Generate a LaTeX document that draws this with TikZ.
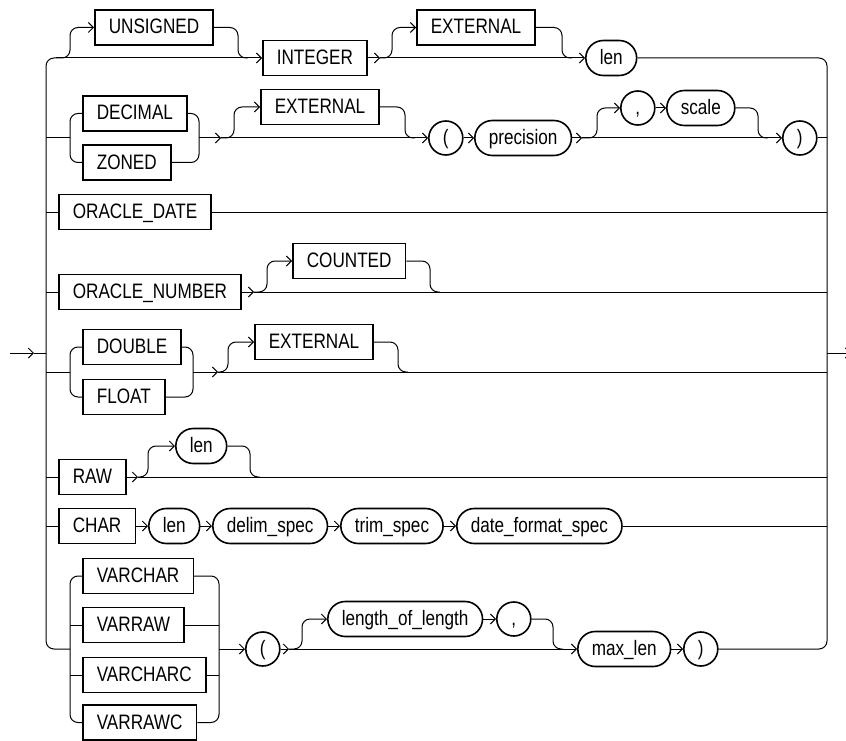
\documentclass[tikz,border=0pt]{standalone}
\usepackage{fontspec}
\setmainfont{Liberation Sans}[FakeStretch=0.82]
\usetikzlibrary{arrows.meta}

\begin{document}
\begin{tikzpicture}[x=1pt,y=-1pt,
  kw/.style={draw,line width=1.6pt,minimum height=35pt,inner xsep=14pt,
    inner ysep=0pt,text height=14pt,text depth=1pt,anchor=west,
    font=\fontsize{20.9}{24}\selectfont},
  nt/.style={kw,rounded corners=17.5pt},
  sym/.style={draw,circle,line width=1.6pt,minimum size=34pt,inner sep=0pt,
    text height=14pt,text depth=1pt,anchor=west,
    font=\fontsize{20.9}{24}\selectfont},
  line/.style={line width=1pt},
  arr/.style={line,-{Straight Barb[length=5pt,width=10pt]}},
  rc/.style={rounded corners=8pt}]
  \useasboundingbox (0,0) rectangle (846,741);

  % row 1
  \node[kw] (unsigned) at (94,27.5) {UNSIGNED};
  \node[kw] (integer) at (262,58) {INTEGER};
  \node[kw] (ext1) at (416,27.5) {EXTERNAL};
  \node[nt] (len1) at (585,58) {len};
  % row 2
  \node[kw] (decimal) at (82,113.5) {DECIMAL};
  \node[kw] (zoned) at (82,162.5) {ZONED};
  \node[kw] (ext2) at (260,107) {EXTERNAL};
  \node[sym] (lp2) at (428,138) {(};
  \node[nt] (precision) at (474,138) {precision};
  \node[sym] (comma2) at (620,108) {,};
  \node[nt] (scale) at (666,108) {scale};
  \node[sym] (rp2) at (782,138) {)};
  % rows 3 and 4
  \node[kw] (odate) at (58,212) {ORACLE\_DATE};
  \node[kw] (onumber) at (58,292) {ORACLE\_NUMBER};
  \node[kw] (counted) at (292,261) {COUNTED};
  % row 5
  \node[kw] (double) at (82,347) {DOUBLE};
  \node[kw] (float) at (82,397) {FLOAT};
  \node[kw] (ext5) at (254,342) {EXTERNAL};
  % row 6
  \node[kw] (raw) at (58,477) {RAW};
  \node[nt] (len6) at (175,446) {len};
  % row 7
  \node[kw] (char) at (58,526) {CHAR};
  \node[nt] (len7) at (148,526) {len};
  \node[nt] (delim) at (212,526) {delim\_spec};
  \node[nt] (trim) at (340,526) {trim\_spec};
  \node[nt] (datefmt) at (456,526) {date\_format\_spec};
  % row 8
  \node[kw] (varchar) at (82,576) {VARCHAR};
  \node[kw] (varraw) at (82,625) {VARRAW};
  \node[kw] (varcharc) at (82,675) {VARCHARC};
  \node[kw] (varrawc) at (82,722.5) {VARRAWC};
  \node[sym] (lp8) at (245,649) {(};
  \node[nt] (lol) at (327,619) {length\_of\_length};
  \node[sym] (comma8) at (496,619) {,};
  \node[nt] (maxlen) at (577,649) {max\_len};
  \node[sym] (rp8) at (683,649) {)};

  % split points and rails
  \coordinate (entry) at (10,353);
  \coordinate (lrail) at (46,353);
  \coordinate (rrail) at (827,353);
  \coordinate (exit) at (851,353);
  \coordinate (s1a) at (56,58);
  \coordinate (s1b) at (380,58);
  \coordinate (bl2) at (70,138);
  \coordinate (br2) at (199,138);
  \coordinate (s2a) at (221,138);
  \coordinate (s2b) at (582,138);
  \coordinate (s4) at (254,292);
  \coordinate (bl5) at (70,372);
  \coordinate (br5) at (193,372);
  \coordinate (s5) at (218,372);
  \coordinate (s6) at (138,477);
  \coordinate (bl8) at (70,649);
  \coordinate (br8) at (219,649);
  \coordinate (s8) at (289,649);

  \draw[arr] (entry) -- (34,353);
  \draw[line] (34,353) -- (lrail);
  \draw[line,rc] (s1a) -| (lrail) |- (bl8);
  \draw[line,rc] (len1.east) -| (rrail) |- (rp8.east);
  \draw[arr] (rrail) -- (exit);

  % row 1
  \draw[arr] (s1a) -- (integer);
  \draw[arr,rc] (s1a) -- (70,58) |- (unsigned.west);
  \draw[line,rc] (unsigned.east) -| (238,58) -- (248,58);
  \draw[arr] (integer) -- (s1b);
  \draw[arr,rc] (s1b) -- (392,58) |- (ext1.west);
  \draw[line,rc] (ext1.east) -| (562,58) -- (572,58);
  \draw[arr] (s1b) -- (len1);

  % row 2
  \draw[line] (lrail |- bl2) -- (bl2);
  \draw[line,rc] (decimal.west) -| (bl2) |- (zoned.west);
  \draw[line,rc] (decimal.east) -| (br2) |- (zoned.east);
  \draw[arr] (br2) -- (s2a);
  \draw[arr,rc] (s2a) -- (234,138) |- (ext2.west);
  \draw[line,rc] (ext2.east) -| (405,138) -- (415,138);
  \draw[arr] (s2a) -- (lp2);
  \draw[arr] (lp2) -- (precision);
  \draw[arr] (precision) -- (s2b);
  \draw[arr,rc] (s2b) -- (597,138) |- (comma2.west);
  \draw[arr] (comma2) -- (scale);
  \draw[line,rc] (scale.east) -| (758,138) -- (768,138);
  \draw[arr] (s2b) -- (rp2);
  \draw[line] (rp2) -- (rrail |- rp2);

  % row 3
  \draw[line] (lrail |- odate) -- (odate);
  \draw[line] (odate) -- (rrail |- odate);

  % row 4
  \draw[line] (lrail |- onumber) -- (onumber);
  \draw[arr] (onumber) -- (s4);
  \draw[arr,rc] (s4) -- (267,292) |- (counted.west);
  \draw[line,rc] (counted.east) -| (430,292) -- (440,292);
  \draw[line] (s4) -- (rrail |- s4);

  % row 5
  \draw[line] (lrail |- bl5) -- (bl5);
  \draw[line,rc] (double.west) -| (bl5) |- (float.west);
  \draw[line,rc] (double.east) -| (br5) |- (float.east);
  \draw[arr] (br5) -- (s5);
  \draw[arr,rc] (s5) -- (228,372) |- (ext5.west);
  \draw[line,rc] (ext5.east) -| (398,372) -- (408,372);
  \draw[line] (s5) -- (rrail |- s5);

  % row 6
  \draw[line] (lrail |- raw) -- (raw);
  \draw[arr] (raw) -- (s6);
  \draw[arr,rc] (s6) -- (148,477) |- (len6.west);
  \draw[line,rc] (len6.east) -| (250,477) -- (260,477);
  \draw[line] (s6) -- (rrail |- s6);

  % row 7
  \draw[line] (lrail |- char) -- (char);
  \draw[arr] (char) -- (len7);
  \draw[arr] (len7) -- (delim);
  \draw[arr] (delim) -- (trim);
  \draw[arr] (trim) -- (datefmt);
  \draw[line] (datefmt) -- (rrail |- datefmt);

  % row 8
  \draw[line,rc] (varchar.west) -| (bl8) |- (varrawc.west);
  \draw[line,rc] (varchar.east) -| (br8) |- (varrawc.east);
  \foreach \v in {varraw,varcharc} {
    \draw[line] (bl8 |- \v.west) -- (\v.west);
    \draw[line] (\v.east) -- (br8 |- \v.east);
  }
  \draw[arr] (br8) -- (lp8);
  \draw[arr] (lp8) -- (s8);
  \draw[arr,rc] (s8) -- (302,649) |- (lol.west);
  \draw[arr] (lol) -- (comma8);
  \draw[line,rc] (comma8.east) -| (553,649) -- (563,649);
  \draw[arr] (s8) -- (maxlen);
  \draw[arr] (maxlen) -- (rp8);
\end{tikzpicture}
\end{document}
